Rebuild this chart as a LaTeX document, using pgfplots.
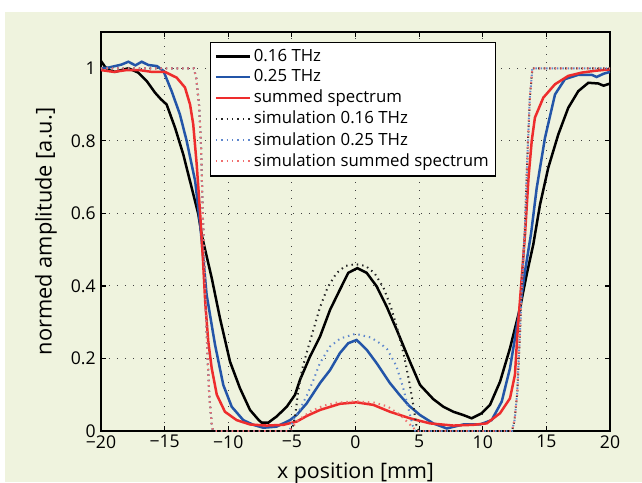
\documentclass[border=0pt]{standalone}
\usepackage{fontspec}
\setmainfont{Open Sans}
\usepackage{pgfplots}
\pgfplotsset{compat=1.18}

\definecolor{bggreen}{RGB}{239,243,222}
\definecolor{mblue}{RGB}{35,85,168}
\definecolor{mred}{RGB}{238,45,45}
\definecolor{sblue}{RGB}{95,135,205}
\definecolor{sred}{RGB}{240,110,110}

\begin{document}
\begin{tikzpicture}
\fill[bggreen] (-48pt,-25.5pt) rectangle (270.5pt,209.5pt);
\begin{axis}[
  at={(0,0)}, anchor=south west,
  scale only axis, width=254.5pt, height=199.5pt,
  xmin=-20, xmax=20, ymin=0, ymax=1.1,
  xtick={-20,-15,...,20},
  xticklabels={−20,−15,−10,−5,0,5,10,15,20},
  ytick={0,0.2,0.4,0.6,0.8,1},
  yticklabels={0,0.2,0.4,0.6,0.8,1},
  tick align=inside, major tick length=2.5pt,
  tick style={black, line width=0.6pt},
  grid=major,
  grid style={black!75, line width=0.5pt, dash pattern=on 0.5pt off 3.5pt},
  axis line style={line width=1pt},
  tick label style={font=\fontsize{8.8}{10}\selectfont},
  xticklabel style={inner sep=2pt},
  yticklabel style={inner sep=2.5pt},
  xlabel={x position [mm]}, ylabel={normed amplitude [a.u.]},
  xlabel style={font=\fontsize{10.7}{12}\selectfont, at={(axis description cs:0.5,-0.12)}, anchor=base},
  ylabel style={font=\fontsize{10.9}{12}\selectfont, at={(axis description cs:-0.108,0.5)}, anchor=center},
  legend cell align=left,
  legend style={at={(rel axis cs:0.214,0.976)}, anchor=north west,
    font=\fontsize{8.4}{9.4}\selectfont, draw=black, line width=0.6pt, fill=white,
    nodes={inner sep=1.35pt}, inner sep=2pt},
  legend image code/.code={\draw[#1] (0cm,0cm) -- (0.6cm,0cm);},
]
% measured: 0.16 THz
\addplot[black, line width=1.25pt] coordinates {
(-20,1.02) (-19.7,1.005) (-19.4,0.995) (-18.9,0.99) (-18.4,0.995) (-17.85,1.0)
(-17.07,0.988) (-16.41,0.965) (-15.76,0.933) (-15.3,0.915) (-14.84,0.90)
(-14.18,0.836) (-13.53,0.762) (-12.87,0.670) (-12.35,0.597) (-12.09,0.541)
(-11.3,0.422) (-10.65,0.311) (-9.86,0.191) (-9.08,0.118) (-8.29,0.058)
(-7.6,0.03) (-7.37,0.023) (-6.85,0.023) (-6.2,0.04) (-5.4,0.067) (-4.75,0.10)
(-4.36,0.141) (-3.58,0.205) (-2.79,0.26) (-2.0,0.334) (-1.22,0.39) (-0.57,0.436)
(0.14,0.449) (0.88,0.436) (1.66,0.399) (2.45,0.343) (3.24,0.279) (3.7,0.24)
(4.28,0.191) (5.07,0.127) (6.11,0.088) (6.9,0.067) (7.69,0.053) (8.47,0.044)
(9.13,0.035) (9.92,0.049) (10.57,0.072) (11.36,0.136) (12.14,0.228)
(12.93,0.339) (13.45,0.431) (13.97,0.514) (14.5,0.624) (15.15,0.726)
(15.94,0.818) (16.72,0.891) (17.51,0.937) (18.3,0.96) (19.08,0.958)
(19.5,0.952) (20,0.958)
};
\addlegendentry{0.16 THz}
% measured: 0.25 THz
\addplot[mblue, line width=1.25pt] coordinates {
(-20,1.0) (-19.4,1.002) (-18.9,1.006) (-18.4,1.01) (-17.85,1.018) (-17.3,1.008)
(-16.8,1.018) (-16.28,1.009) (-15.6,1.006) (-15.1,0.993) (-14.45,0.937)
(-13.8,0.873) (-13.27,0.80) (-12.6,0.689) (-12.18,0.56) (-11.7,0.376)
(-11.04,0.238) (-10.39,0.127) (-9.73,0.067) (-8.82,0.03) (-8.03,0.017)
(-7.25,0.009) (-6.2,0.012) (-5.15,0.03) (-4.6,0.045) (-3.84,0.076)
(-2.79,0.132) (-2.0,0.168) (-1.22,0.215) (-0.57,0.242) (0.09,0.251)
(0.88,0.224) (1.66,0.187) (2.71,0.132) (3.5,0.098) (4.2,0.07) (5.07,0.044)
(6.11,0.021) (7.17,0.007) (8.47,0.018) (9.78,0.018) (10.7,0.03) (11.49,0.081)
(12.14,0.173) (12.79,0.311) (13.32,0.44) (13.8,0.545) (14.24,0.67)
(14.89,0.808) (15.68,0.928) (16.46,0.97) (17.51,0.982) (18.56,0.982)
(18.95,0.976) (19.5,0.985) (20,0.99)
};
\addlegendentry{0.25 THz}
% measured: summed spectrum
\addplot[mred, line width=1.25pt] coordinates {
(-20,0.995) (-19,0.99) (-18,0.995) (-17,0.995) (-16,0.99) (-14.97,0.99)
(-14.05,0.974) (-13.4,0.947) (-13.0,0.90) (-12.75,0.845) (-12.48,0.735)
(-12.22,0.606) (-12.0,0.48) (-11.8,0.35) (-11.57,0.247) (-11.3,0.173)
(-10.9,0.10) (-10.26,0.053) (-9.34,0.03) (-8.29,0.018) (-6.98,0.015)
(-5.67,0.017) (-4.62,0.026) (-3.8,0.042) (-2.79,0.058) (-1.22,0.075)
(0.09,0.079) (1.4,0.072) (2.71,0.053) (4.28,0.035) (5.85,0.021) (7.69,0.015)
(9.26,0.017) (10.31,0.021) (11.36,0.049) (12.14,0.09) (12.53,0.155)
(12.72,0.265) (12.98,0.385) (13.32,0.541) (13.6,0.70) (13.85,0.80)
(14.1,0.864) (14.76,0.919) (15.68,0.956) (16.72,0.979) (17.77,0.988)
(18.82,0.993) (20,0.997)
};
\addlegendentry{summed spectrum}
% simulation 0.16 THz
\addplot[black!85, line width=1pt, dash pattern=on 0.7pt off 2pt] coordinates {
(-20,1) (-12.7,1) (-12.5,0.97) (-12.3,0.9) (-12.15,0.8) (-12.0,0.6) (-11.9,0.5)
(-11.7,0.27) (-11.5,0.1) (-11.3,0.02) (-11.2,0) (-5,0) (-4.75,0.04) (-4.5,0.11)
(-4.2,0.17) (-3.8,0.22) (-3.3,0.28) (-2.8,0.34) (-2.2,0.395) (-1.5,0.435)
(-0.8,0.455) (0,0.46) (0.8,0.455) (1.5,0.435) (2.2,0.395) (2.8,0.34) (3.3,0.28)
(3.8,0.21) (4.2,0.14) (4.5,0.08) (4.8,0.012) (5,0) (12.3,0) (12.5,0.03)
(12.7,0.1) (12.9,0.25) (13.1,0.42) (13.3,0.55) (13.5,0.75) (13.7,0.92)
(13.9,1.0) (20,1)
};
\addlegendentry{simulation 0.16 THz}
% simulation 0.25 THz
\addplot[sblue, line width=1pt, dash pattern=on 0.7pt off 2pt] coordinates {
(-20,1) (-12.7,1) (-12.5,0.97) (-12.3,0.9) (-12.15,0.8) (-12.0,0.6) (-11.9,0.5)
(-11.7,0.27) (-11.5,0.1) (-11.3,0.02) (-11.2,0) (-5.2,0) (-4.9,0.03)
(-4.4,0.058) (-3.8,0.1) (-3.3,0.141) (-2.8,0.187) (-2.0,0.233) (-1.2,0.255)
(0,0.268) (1.2,0.258) (2.0,0.24) (2.5,0.225) (3.2,0.18) (3.7,0.125) (4.1,0.07)
(4.5,0.015) (4.7,0) (12.3,0) (12.5,0.03) (12.7,0.1) (12.9,0.25) (13.1,0.42)
(13.3,0.55) (13.5,0.75) (13.7,0.92) (13.9,1.0) (20,1)
};
\addlegendentry{simulation 0.25 THz}
% simulation summed spectrum
\addplot[sred, line width=1pt, dash pattern=on 0.7pt off 2pt] coordinates {
(-20,1) (-12.7,1) (-12.5,0.97) (-12.3,0.9) (-12.15,0.8) (-12.0,0.6) (-11.9,0.5)
(-11.7,0.27) (-11.5,0.1) (-11.3,0.02) (-11.2,0) (-5.2,0) (-4.5,0.03)
(-3.5,0.055) (-2.5,0.07) (-1.5,0.078) (0,0.082) (1.5,0.078) (2.5,0.068)
(3.5,0.045) (4.3,0.017) (4.8,0) (12.3,0) (12.5,0.03) (12.7,0.1) (12.9,0.25)
(13.1,0.42) (13.3,0.55) (13.5,0.75) (13.7,0.92) (13.9,1.0) (20,1)
};
\addlegendentry{simulation summed spectrum}
\end{axis}
\pgfresetboundingbox
\useasboundingbox (-50.5pt,-25.5pt) rectangle (270.5pt,215.5pt);
\end{tikzpicture}
\end{document}
